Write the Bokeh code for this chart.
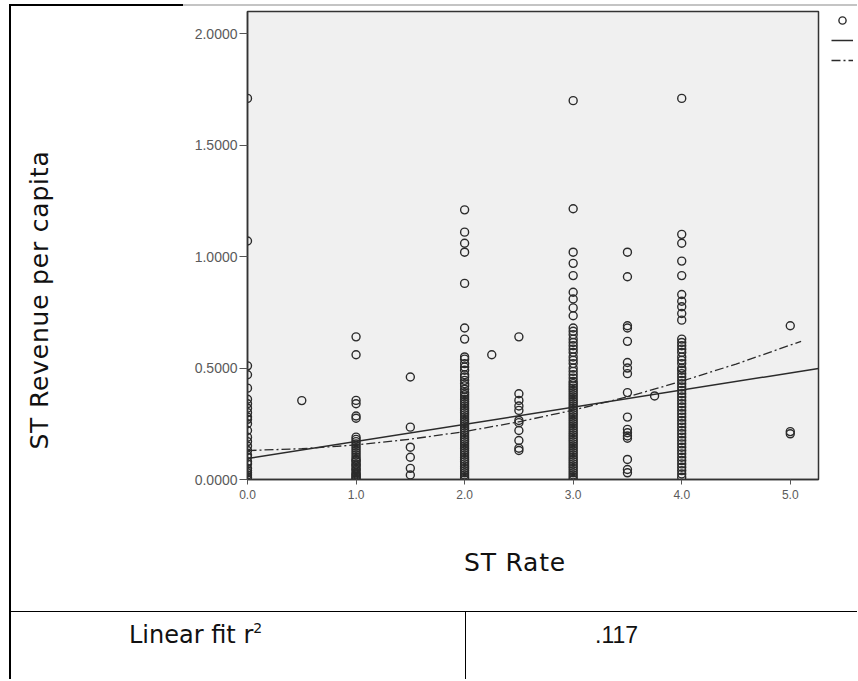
import numpy as np
from bokeh.plotting import figure
from bokeh.models import (FixedTicker, NumeralTickFormatter, Legend,
                          LegendItem, Div, Range1d, ColumnDataSource)
from bokeh.layouts import row, column
from bokeh.core.properties import value
from bokeh.embed import file_html
from bokeh.resources import INLINE

# ---------------- data ----------------
rates = [0.0, 0.5, 1.0, 1.5, 2.0, 2.25, 2.5, 3.0, 3.5, 3.75, 4.0, 5.0]

rev_0_0 = [1.71, 1.07, 0.51, 0.47, 0.41, 0.36, 0.34, 0.32, 0.30, 0.28, 0.27, 0.25,
           0.22, 0.19, 0.17, 0.15, 0.13, 0.11, 0.10, 0.08, 0.07, 0.05, 0.04, 0.03,
           0.02, 0.01, 0.0]
rev_0_5 = [0.354]
rev_1_0 = [0.64, 0.56, 0.355, 0.34, 0.285, 0.275, 0.19, 0.18, 0.17, 0.16, 0.15, 0.14,
           0.13, 0.12, 0.11, 0.10, 0.09, 0.085, 0.08, 0.07, 0.065, 0.06, 0.05, 0.045,
           0.04, 0.03, 0.025, 0.02, 0.015, 0.01, 0.005, 0.0]
rev_1_5 = [0.46, 0.235, 0.145, 0.10, 0.05, 0.02]
rev_2_0 = [1.21, 1.11, 1.06, 1.02, 0.88, 0.68, 0.63, 0.55, 0.54, 0.52, 0.505, 0.49,
           0.47, 0.46, 0.445, 0.43, 0.42, 0.405, 0.39, 0.38, 0.37, 0.36, 0.35, 0.34,
           0.33, 0.32, 0.31, 0.30, 0.29, 0.28, 0.27, 0.26, 0.25, 0.24, 0.23, 0.22,
           0.21, 0.20, 0.19, 0.18, 0.17, 0.16, 0.15, 0.14, 0.13, 0.12, 0.11, 0.10,
           0.09, 0.08, 0.07, 0.06, 0.05, 0.04, 0.03, 0.02, 0.01, 0.0]
rev_2_25 = [0.56]
rev_2_5 = [0.64, 0.385, 0.355, 0.33, 0.31, 0.265, 0.255, 0.22, 0.175, 0.14, 0.13]
rev_3_0 = [1.70, 1.215, 1.02, 0.97, 0.915, 0.84, 0.81, 0.77, 0.735, 0.68, 0.665, 0.65,
           0.63, 0.615, 0.60, 0.585, 0.57, 0.55, 0.535, 0.52, 0.50, 0.485, 0.47, 0.455,
           0.44, 0.43, 0.42, 0.41, 0.40, 0.39, 0.38, 0.37, 0.36, 0.35, 0.34, 0.33,
           0.32, 0.31, 0.30, 0.29, 0.28, 0.27, 0.26, 0.25, 0.24, 0.23, 0.22, 0.21,
           0.20, 0.19, 0.18, 0.17, 0.16, 0.15, 0.14, 0.13, 0.12, 0.11, 0.10, 0.09,
           0.08, 0.07, 0.06, 0.05, 0.04, 0.03, 0.02, 0.01, 0.0]
rev_3_5 = [1.02, 0.91, 0.69, 0.68, 0.62, 0.525, 0.50, 0.475, 0.39, 0.28, 0.225, 0.21,
           0.195, 0.185, 0.09, 0.045, 0.03]
rev_3_75 = [0.375]
rev_4_0 = [1.71, 1.10, 1.06, 0.98, 0.915, 0.83, 0.80, 0.775, 0.745, 0.715, 0.63, 0.615,
           0.60, 0.585, 0.57, 0.55, 0.535, 0.52, 0.50, 0.49, 0.475, 0.46, 0.445, 0.43,
           0.415, 0.40, 0.385, 0.37, 0.355, 0.34, 0.325, 0.31, 0.295, 0.28, 0.265, 0.25,
           0.235, 0.22, 0.205, 0.19, 0.175, 0.16, 0.145, 0.13, 0.115, 0.10, 0.085, 0.07,
           0.055, 0.04, 0.025, 0.01]
rev_5_0 = [0.69, 0.215, 0.205]

revenue_by_rate = [rev_0_0, rev_0_5, rev_1_0, rev_1_5, rev_2_0, rev_2_25, rev_2_5,
                   rev_3_0, rev_3_5, rev_3_75, rev_4_0, rev_5_0]

# fitted lines
linear_x = [0.0, 5.26]
linear_y = [0.094, 0.498]
quad_x = [0.0, 0.5, 1.0, 1.5, 2.0, 2.5, 3.0, 3.5, 4.0, 4.5, 5.1]
quad_y = [0.130, 0.138, 0.155, 0.181, 0.215, 0.259, 0.311, 0.371, 0.441, 0.518, 0.620]

x_ticks = [0, 1, 2, 3, 4, 5]
y_ticks = [0.0, 0.5, 1.0, 1.5, 2.0]

x_title = "ST Rate"
y_title = "ST Revenue per capita"
r2_label = "Linear fit r"
r2_sup = "2"
r2_value = ".117"

# ---------------- build ----------------
xs, ys = [], []
for r, vals in zip(rates, revenue_by_rate):
    xs.extend([r] * len(vals))
    ys.extend(vals)
src = ColumnDataSource(dict(rate=xs, revenue=ys))

FONT = "DejaVu Sans"
INK = "#2b2b2b"
PT_STYLE = dict(marker="circle", size=8, fill_alpha=0, line_color=INK, line_width=1.4)
LIN_STYLE = dict(line_color=INK, line_width=1.5)
QUAD_STYLE = dict(line_color=INK, line_width=1.3, line_dash="9 3 2 3")

p = figure(width=720, height=509, output_backend="svg", toolbar_location=None,
           title=None, x_range=Range1d(0, 5.26), y_range=Range1d(0, 2.1),
           min_border_left=136, min_border_right=13, min_border_top=5,
           min_border_bottom=36, background_fill_color="#f0f0f0",
           border_fill_color="white", outline_line_color="#333333",
           outline_line_width=1.5, margin=0)
p.grid.visible = False

p.xaxis.ticker = FixedTicker(ticks=x_ticks)
p.yaxis.ticker = FixedTicker(ticks=y_ticks)
p.xaxis.formatter = NumeralTickFormatter(format="0.0")
p.yaxis.formatter = NumeralTickFormatter(format="0.0000")
for ax in (p.xaxis, p.yaxis):
    ax.axis_line_color = "#333333"
    ax.axis_line_width = 1.5
    ax.major_tick_in = 0
    ax.minor_tick_in = 0
    ax.minor_tick_out = 0
    ax.major_tick_line_color = "#555555"
    ax.major_label_text_font = "Liberation Sans"
    ax.major_label_text_color = "#5a5a5a"
p.yaxis.major_tick_out = 8
p.yaxis.major_label_standoff = 2
p.yaxis.major_label_text_font_size = "14px"
p.xaxis.major_tick_out = 5
p.xaxis.major_label_standoff = 5
p.xaxis.major_label_text_font_size = "12px"

p.scatter("rate", "revenue", source=src, **PT_STYLE)
p.line(linear_x, linear_y, **LIN_STYLE)
p.line(quad_x, quad_y, **QUAD_STYLE)

# legend strip at the right: only its key glyphs are visible in the reference.
# The key renderers reuse the series but sit outside this strip's ranges.
lg = figure(width=26, height=509, output_backend="svg", toolbar_location=None,
            title=None, x_range=Range1d(-2, -1), y_range=Range1d(-2, -1),
            x_axis_location=None, y_axis_location=None, min_border=0,
            outline_line_color=None, background_fill_color="white",
            border_fill_color="white", margin=0)
lg.grid.visible = False
k_pts = lg.scatter(x=xs[:1], y=ys[:1], **PT_STYLE)
k_lin = lg.line(x=linear_x, y=linear_y, **LIN_STYLE)
k_quad = lg.line(x=quad_x, y=quad_y, **QUAD_STYLE)
legend = Legend(items=[LegendItem(label=value("\u200b"), renderers=[k_pts]),
                       LegendItem(label=value("\u200b\u200b"), renderers=[k_lin]),
                       LegendItem(label=value("\u200b\u200b\u200b"), renderers=[k_quad])],
                location="top_left", padding=5, margin=0, spacing=2,
                glyph_width=22, glyph_height=18, label_height=18,
                label_standoff=0, border_line_color=None,
                background_fill_alpha=0, label_text_font_size="8px")
lg.add_layout(legend)

# ---------------- page pieces (document table around the chart) ----------------
top_space = Div(text="", width=858, height=4, margin=0)
left_space = Div(text="", width=9, height=675, margin=0)
left_bar = Div(text="", width=2, height=675, margin=0, styles={"background": "#000"})
top_bar = Div(text="", width=846, height=2, margin=0,
              styles={"background": "linear-gradient(to right, #000 172px, #c4c4c4 172px)"})

ytitle_html = (
    f'<div style="position:relative;width:100px;height:509px;font-family:\'{FONT}\',sans-serif;">'
    '<div style="position:absolute;left:29px;top:294px;transform:translate(-50%,-50%) rotate(-90deg);'
    f'white-space:nowrap;font-size:25px;letter-spacing:0.8px;line-height:30px;color:#111;">{y_title}</div>'
    '</div>')
ytitle = Div(text=ytitle_html, width=100, height=509, margin=0)

bottom_html = (
    f'<div style="position:relative;width:846px;height:164px;font-family:\'{FONT}\',sans-serif;color:#111;">'
    '<div style="position:absolute;left:504px;top:34px;transform:translateX(-50%);white-space:nowrap;'
    f'font-size:25px;letter-spacing:0.8px;line-height:28px;">{x_title}</div>'
    '<div style="position:absolute;left:0;top:96px;width:846px;height:0;border-top:1.5px solid #000"></div>'
    '<div style="position:absolute;left:454px;top:96px;width:0;height:68px;border-left:1.5px solid #000"></div>'
    '<div style="position:absolute;left:118px;top:106px;white-space:nowrap;font-size:24px;line-height:28px;">'
    f'{r2_label}<span style="font-size:14px;vertical-align:10px;line-height:0;">{r2_sup}</span></div>'
    '<div style="position:absolute;left:584px;top:106px;white-space:nowrap;font-size:23px;line-height:28px;'
    f'font-family:\'Liberation Sans\',sans-serif;">{r2_value}</div>'
    '</div>')
bottom = Div(text=bottom_html, width=846, height=164, margin=0)

content = column(top_bar, row(ytitle, p, lg, spacing=0), bottom, spacing=0)
layout = column(top_space, row(left_space, left_bar, content, spacing=0), spacing=0)

open("out.html", "w").write(file_html(layout, INLINE))
